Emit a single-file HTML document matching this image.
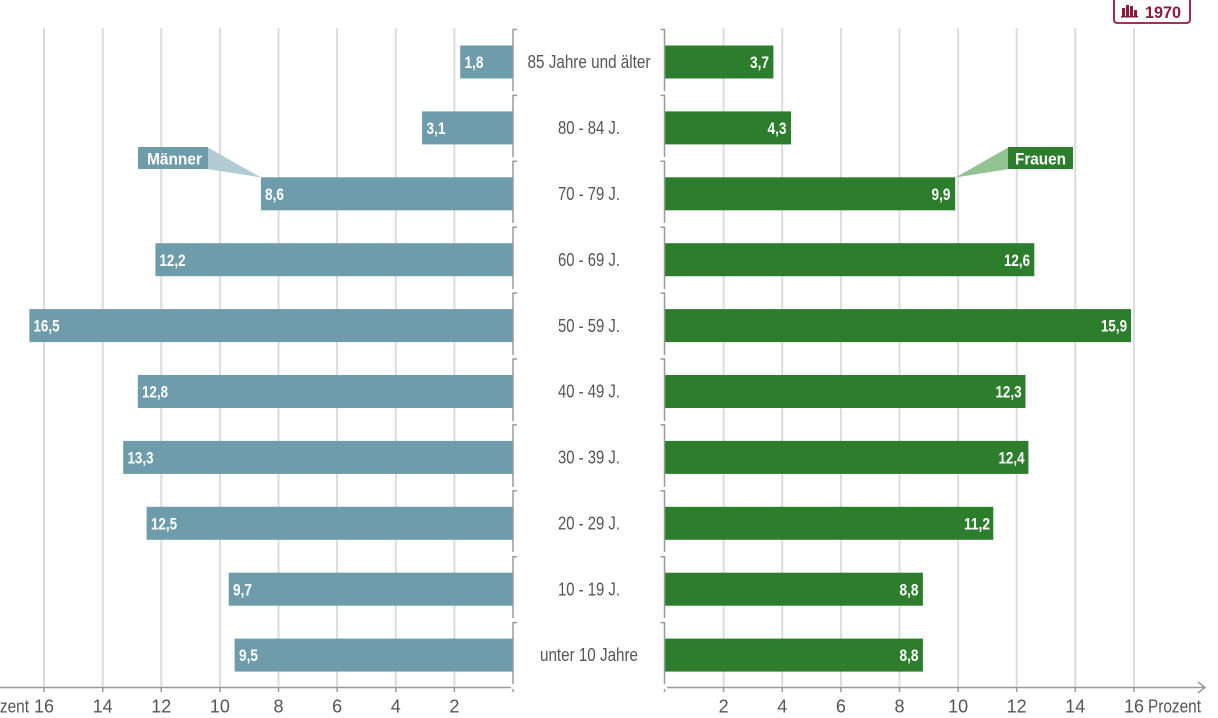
<!DOCTYPE html>
<html><head><meta charset="utf-8"><style>
html,body{margin:0;padding:0;background:#fff;width:1218px;height:718px;overflow:hidden}
svg{display:block}
text{font-family:"Liberation Sans Narrow","Liberation Sans",sans-serif}
</style></head><body>
<svg width="1218" height="718" viewBox="0 0 1218 718" xmlns="http://www.w3.org/2000/svg">
<g stroke="#dcdcdc" stroke-width="2">
<line x1="454.4" y1="28" x2="454.4" y2="687"/><line x1="395.8" y1="28" x2="395.8" y2="687"/>
<line x1="337.1" y1="28" x2="337.1" y2="687"/><line x1="278.5" y1="28" x2="278.5" y2="687"/>
<line x1="219.9" y1="28" x2="219.9" y2="687"/><line x1="161.3" y1="28" x2="161.3" y2="687"/>
<line x1="102.7" y1="28" x2="102.7" y2="687"/><line x1="44" y1="28" x2="44" y2="687"/>
<line x1="723.6" y1="28" x2="723.6" y2="687"/><line x1="782.2" y1="28" x2="782.2" y2="687"/>
<line x1="840.9" y1="28" x2="840.9" y2="687"/><line x1="899.5" y1="28" x2="899.5" y2="687"/>
<line x1="958.1" y1="28" x2="958.1" y2="687"/><line x1="1016.7" y1="28" x2="1016.7" y2="687"/>
<line x1="1075.3" y1="28" x2="1075.3" y2="687"/><line x1="1134" y1="28" x2="1134" y2="687"/>
</g>
<g fill="#6e9cab">
<rect x="460.2" y="45.5" width="52.8" height="33"/>
<rect x="422.1" y="111.4" width="90.9" height="33"/>
<rect x="260.9" y="177.3" width="252.1" height="33"/>
<rect x="155.4" y="243.2" width="357.6" height="33"/>
<rect x="29.4" y="309.1" width="483.6" height="33"/>
<rect x="137.8" y="375" width="375.2" height="33"/>
<rect x="123.2" y="440.9" width="389.8" height="33"/>
<rect x="146.6" y="506.8" width="366.4" height="33"/>
<rect x="228.7" y="572.7" width="284.3" height="33"/>
<rect x="234.6" y="638.6" width="278.4" height="33"/>
</g>
<g fill="#2c7e2c">
<rect x="665" y="45.5" width="108.4" height="33"/>
<rect x="665" y="111.4" width="126" height="33"/>
<rect x="665" y="177.3" width="290.2" height="33"/>
<rect x="665" y="243.2" width="369.3" height="33"/>
<rect x="665" y="309.1" width="466" height="33"/>
<rect x="665" y="375" width="360.5" height="33"/>
<rect x="665" y="440.9" width="363.4" height="33"/>
<rect x="665" y="506.8" width="328.3" height="33"/>
<rect x="665" y="572.7" width="257.9" height="33"/>
<rect x="665" y="638.6" width="257.9" height="33"/>
</g>
<g fill="#fff" font-size="17" font-weight="bold">
<text x="464.5" y="68" textLength="19" lengthAdjust="spacingAndGlyphs">1,8</text>
<text x="426.5" y="134" textLength="19" lengthAdjust="spacingAndGlyphs">3,1</text>
<text x="265" y="200" textLength="19" lengthAdjust="spacingAndGlyphs">8,6</text>
<text x="159.5" y="266" textLength="26" lengthAdjust="spacingAndGlyphs">12,2</text>
<text x="33.5" y="331.5" textLength="26" lengthAdjust="spacingAndGlyphs">16,5</text>
<text x="142" y="397.5" textLength="26" lengthAdjust="spacingAndGlyphs">12,8</text>
<text x="127.5" y="463.5" textLength="26" lengthAdjust="spacingAndGlyphs">13,3</text>
<text x="151" y="529.5" textLength="26" lengthAdjust="spacingAndGlyphs">12,5</text>
<text x="233" y="595.5" textLength="19" lengthAdjust="spacingAndGlyphs">9,7</text>
<text x="239" y="661" textLength="19" lengthAdjust="spacingAndGlyphs">9,5</text>
<text x="750" y="68" textLength="19" lengthAdjust="spacingAndGlyphs">3,7</text>
<text x="767.5" y="134" textLength="19" lengthAdjust="spacingAndGlyphs">4,3</text>
<text x="931.5" y="200" textLength="19" lengthAdjust="spacingAndGlyphs">9,9</text>
<text x="1004" y="266" textLength="26" lengthAdjust="spacingAndGlyphs">12,6</text>
<text x="1101" y="331.5" textLength="26" lengthAdjust="spacingAndGlyphs">15,9</text>
<text x="995.5" y="397.5" textLength="26" lengthAdjust="spacingAndGlyphs">12,3</text>
<text x="998.5" y="463.5" textLength="26" lengthAdjust="spacingAndGlyphs">12,4</text>
<text x="964" y="529.5" textLength="26" lengthAdjust="spacingAndGlyphs">11,2</text>
<text x="899.5" y="595.5" textLength="19" lengthAdjust="spacingAndGlyphs">8,8</text>
<text x="899.5" y="661" textLength="19" lengthAdjust="spacingAndGlyphs">8,8</text>
</g>
<g stroke="#9a9a9a" stroke-width="1.5" fill="none">
<path d="M517 29.5H513V91"/><path d="M517 95.4H513V157"/><path d="M517 161.3H513V223"/>
<path d="M517 227.2H513V289"/><path d="M517 293.1H513V355"/><path d="M517 359H513V421"/>
<path d="M517 424.9H513V487"/><path d="M517 490.8H513V552"/><path d="M517 556.7H513V618"/>
<path d="M517 622.6H513V684"/>
<path d="M660.5 29.5H664.5V91"/><path d="M660.5 95.4H664.5V157"/><path d="M660.5 161.3H664.5V223"/>
<path d="M660.5 227.2H664.5V289"/><path d="M660.5 293.1H664.5V355"/><path d="M660.5 359H664.5V421"/>
<path d="M660.5 424.9H664.5V487"/><path d="M660.5 490.8H664.5V552"/><path d="M660.5 556.7H664.5V618"/>
<path d="M660.5 622.6H664.5V684"/>
<path d="M0 687.5H511"/>
<path d="M44 687.5V692M102.7 687.5V692M161.3 687.5V692M219.9 687.5V692M278.5 687.5V692M337.1 687.5V692M395.8 687.5V692M454.4 687.5V692M513 689V692"/>
<path d="M667 687.5H1205"/>
<path d="M1198 682L1205 687.5L1198 693"/>
<path d="M664.5 689V692M723.6 687.5V692M782.2 687.5V692M840.9 687.5V692M899.5 687.5V692M958.1 687.5V692M1016.7 687.5V692M1075.3 687.5V692M1134 687.5V692"/>
</g>
<g fill="#555" font-size="18" text-anchor="middle">
<text x="589" y="68" textLength="123" lengthAdjust="spacingAndGlyphs">85 Jahre und älter</text>
<text x="589" y="134" textLength="62" lengthAdjust="spacingAndGlyphs">80 - 84 J.</text>
<text x="589" y="200" textLength="62" lengthAdjust="spacingAndGlyphs">70 - 79 J.</text>
<text x="589" y="266" textLength="62" lengthAdjust="spacingAndGlyphs">60 - 69 J.</text>
<text x="589" y="332" textLength="62" lengthAdjust="spacingAndGlyphs">50 - 59 J.</text>
<text x="589" y="397.5" textLength="62" lengthAdjust="spacingAndGlyphs">40 - 49 J.</text>
<text x="589" y="463.5" textLength="62" lengthAdjust="spacingAndGlyphs">30 - 39 J.</text>
<text x="589" y="529.5" textLength="62" lengthAdjust="spacingAndGlyphs">20 - 29 J.</text>
<text x="589" y="595.5" textLength="62" lengthAdjust="spacingAndGlyphs">10 - 19 J.</text>
<text x="589" y="661" textLength="98" lengthAdjust="spacingAndGlyphs">unter 10 Jahre</text>
</g>
<g fill="#555" font-size="18" text-anchor="middle">
<text x="44" y="712.5">16</text><text x="102.7" y="712.5">14</text><text x="161.3" y="712.5">12</text>
<text x="219.9" y="712.5">10</text><text x="278.5" y="712.5">8</text><text x="337.1" y="712.5">6</text>
<text x="395.8" y="712.5">4</text><text x="454.4" y="712.5">2</text>
<text x="723.6" y="712.5">2</text><text x="782.2" y="712.5">4</text><text x="840.9" y="712.5">6</text>
<text x="899.5" y="712.5">8</text><text x="958.1" y="712.5">10</text><text x="1016.7" y="712.5">12</text>
<text x="1075.3" y="712.5">14</text><text x="1134" y="712.5">16</text>
</g>
<g fill="#555" font-size="18">
<text x="-24" y="712.5" textLength="53" lengthAdjust="spacingAndGlyphs">Prozent</text>
<text x="1148" y="712.5" textLength="53" lengthAdjust="spacingAndGlyphs">Prozent</text>
</g>
<polygon points="207,147 261,177.5 207,169" fill="#b3ccd4"/>
<rect x="138" y="147" width="70" height="22" fill="#6e9cab"/>
<text x="147" y="164.5" fill="#fff" font-size="17" font-weight="bold" textLength="55" lengthAdjust="spacingAndGlyphs">Männer</text>
<polygon points="1009,147 955.5,177.5 1009,169" fill="#93c293"/>
<rect x="1008" y="147" width="65" height="22" fill="#2c7e2c"/>
<text x="1015" y="164.5" fill="#fff" font-size="17" font-weight="bold" textLength="51" lengthAdjust="spacingAndGlyphs">Frauen</text>
<rect x="1114" y="-4" width="76" height="27" rx="3" ry="3" fill="#fff" stroke="#8d1a3b" stroke-width="1.8"/>
<g fill="#8d1a3b">
<rect x="1122" y="8" width="3" height="9"/><rect x="1126" y="5" width="3" height="12"/>
<rect x="1130" y="6" width="3" height="11"/><rect x="1134" y="10" width="3" height="7"/>
<rect x="1121" y="16" width="17" height="1.5"/>
</g>
<text x="1145" y="18" fill="#8d1a3b" font-size="17" font-weight="bold" textLength="36" lengthAdjust="spacingAndGlyphs">1970</text>
</svg>
</body></html>
